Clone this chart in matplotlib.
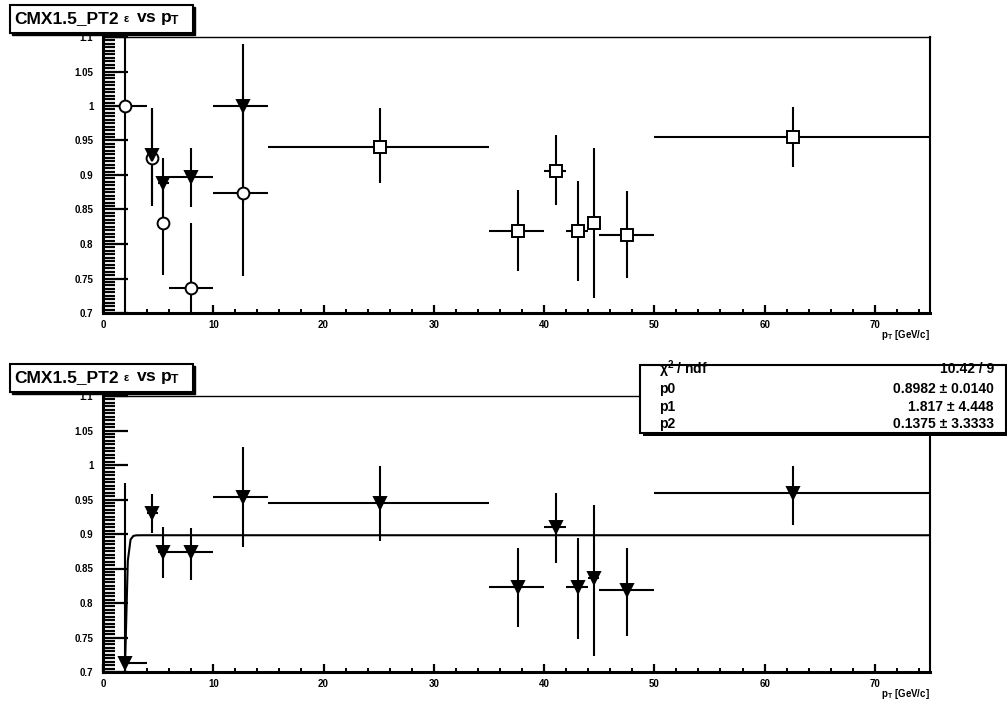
import numpy as np
import matplotlib
matplotlib.use("Agg")
import matplotlib.pyplot as plt
from matplotlib.ticker import MultipleLocator
from matplotlib.patches import Rectangle

plt.rcParams['font.family'] = ['Liberation Sans', 'DejaVu Sans']
plt.rcParams['font.weight'] = 'bold'
plt.rcParams['mathtext.default'] = 'regular'

# pT bins and mean pT per bin
bin_lo = [2, 4, 5, 6, 10, 15, 35, 40, 42, 44, 45, 50]
bin_hi = [4, 5, 6, 10, 15, 35, 40, 42, 44, 45, 50, 75]
pt = [2.0, 4.44, 5.45, 8.0, 12.7, 25.1, 37.6, 41.05, 43.1, 44.5, 47.5, 62.6]

# upper panel: circles (bins 0-4)
eff_c = [1.0, 0.925, 0.831, 0.736, 0.874]
up_c = [0.12, 0.07, 0.06, 0.094, 0.14]
dn_c = [0.32, 0.07, 0.076, 0.05, 0.12]

# upper panel: triangles (bins 1-4)
eff_t = [0.929, 0.889, 0.897, 1.0]
up_t = [0.068, 0.036, 0.042, 0.09]
dn_t = [0.072, 0.045, 0.043, 0.14]

# upper panel: squares (bins 5-11)
eff_s = [0.941, 0.819, 0.906, 0.819, 0.831, 0.813, 0.955]
up_s = [0.056, 0.059, 0.052, 0.072, 0.108, 0.064, 0.043]
dn_s = [0.052, 0.058, 0.049, 0.073, 0.109, 0.062, 0.043]

# lower panel: all bins
eff_b = [0.713, 0.931, 0.874, 0.874, 0.954, 0.945, 0.823, 0.910, 0.823, 0.836, 0.819, 0.960]
up_b = [0.261, 0.027, 0.036, 0.035, 0.072, 0.054, 0.057, 0.05, 0.071, 0.106, 0.061, 0.039]
dn_b = [0.05, 0.029, 0.038, 0.04, 0.073, 0.055, 0.058, 0.052, 0.075, 0.113, 0.067, 0.047]

# fit parameters
p0, p1, p2 = 0.8982, 1.817, 0.1375
chi2_txt = "10.42 / 9"
par_txt = ["0.8982 \u00b1 0.0140", "1.817 \u00b1 4.448", "0.1375 \u00b1 3.3333"]

W, H = 1007, 704
fig = plt.figure(figsize=(W / 100, H / 100), dpi=100)


def px_box(x0, y0, x1, y1):
    return [x0 / W, 1 - y1 / H, (x1 - x0) / W, (y1 - y0) / H]


def style_axes(ax):
    ax.set_xlim(0, 75)
    ax.set_ylim(0.7, 1.1)
    ax.xaxis.set_major_locator(MultipleLocator(10))
    ax.xaxis.set_minor_locator(MultipleLocator(2))
    ax.yaxis.set_major_locator(MultipleLocator(0.05))
    ax.yaxis.set_minor_locator(MultipleLocator(0.005))
    ax.tick_params(axis='y', which='major', direction='in', length=18, width=1.6,
                   labelsize=7, pad=7, right=False)
    ax.tick_params(axis='y', which='minor', direction='in', length=8.5, width=1.6, right=False)
    ax.tick_params(axis='x', which='major', direction='in', length=6, width=1.6,
                   labelsize=7, pad=5, top=False)
    ax.tick_params(axis='x', which='minor', direction='in', length=3, width=1.4, top=False)
    ax.yaxis.set_major_formatter(plt.FuncFormatter(lambda v, _: ('%g' % round(v, 3))))
    for lab in ax.get_xticklabels() + ax.get_yticklabels():
        lab.set_fontweight('bold')
    ax.spines['left'].set_linewidth(2.2)
    ax.spines['bottom'].set_linewidth(2.2)
    ax.spines['right'].set_linewidth(1.5)
    ax.spines['top'].set_linewidth(1.0)
    ax.text(1.0, -0.055, r'p$_{T}$ [GeV/c]', transform=ax.transAxes, ha='right',
            va='top', fontsize=7, fontweight='bold')


def draw(ax, idx, y, up, dn, marker, face):
    x = np.array([pt[i] for i in idx])
    xl = x - np.array([bin_lo[i] for i in idx])
    xh = np.array([bin_hi[i] for i in idx]) - x
    ax.errorbar(x, y, xerr=[xl, xh], yerr=[dn, up], fmt='none', ecolor='black',
                elinewidth=1.5, capsize=0, zorder=2)
    ax.plot(x, y, linestyle='none', marker=marker, markersize=8.5, markerfacecolor=face,
            markeredgecolor='black', markeredgewidth=1.4, zorder=3)


def title_box(y0, y1):
    fig.patches.append(Rectangle((12 / W, 1 - (y1 + 2) / H), 183 / W, (y1 - y0) / H,
                                 transform=fig.transFigure, facecolor='black',
                                 edgecolor='black', zorder=9))
    fig.patches.append(Rectangle((10 / W, 1 - y1 / H), 183 / W, (y1 - y0) / H,
                                 transform=fig.transFigure, facecolor='white',
                                 edgecolor='black', linewidth=1.5, zorder=10))
    yc = 1 - (y0 + y1) / 2 / H
    fig.text(14 / W, yc, 'CMX1.5_PT2', ha='left', va='center', fontsize=12.5,
             fontweight='bold', zorder=11)
    fig.text(124 / W, yc, '\u03b5', ha='left', va='center', fontsize=8,
             fontweight='bold', zorder=11)
    fig.text(136 / W, yc, 'vs p$_{T}$', ha='left', va='center', fontsize=12.5,
             fontweight='bold', zorder=11)


# upper panel
ax1 = fig.add_axes(px_box(103, 37, 930, 313))
style_axes(ax1)
draw(ax1, [0, 1, 2, 3, 4], eff_c, up_c, dn_c, 'o', 'white')
draw(ax1, [1, 2, 3, 4], eff_t, up_t, dn_t, 'v', 'black')
draw(ax1, [5, 6, 7, 8, 9, 10, 11], eff_s, up_s, dn_s, 's', 'white')
title_box(5, 33)

# lower panel with fit
ax2 = fig.add_axes(px_box(103, 396, 930, 672))
style_axes(ax2)
draw(ax2, list(range(12)), eff_b, up_b, dn_b, 'v', 'black')
xf = np.linspace(0, 75, 301)
ax2.plot(xf, p0 / (1 + np.exp(-(xf - p1) / p2)), color='black', linewidth=1.5, zorder=2)
title_box(364, 392)

# fit statistics box
fig.patches.append(Rectangle((643 / W, 1 - 436 / H), 365 / W, 70 / H,
                             transform=fig.transFigure, facecolor='black', zorder=9))
fig.patches.append(Rectangle((640 / W, 1 - 433 / H), 366 / W, 68 / H,
                             transform=fig.transFigure, facecolor='white',
                             edgecolor='black', linewidth=1.5, zorder=10))
rows_y = [369, 389, 407, 424]
labels = ['\u03c7$^{2}$ / ndf', 'p0', 'p1', 'p2']
values = [chi2_txt] + par_txt
for yy, lab, val in zip(rows_y, labels, values):
    fig.text(659 / W, 1 - yy / H, lab, ha='left', va='center', fontsize=10,
             fontweight='bold', zorder=11)
    fig.text(994 / W, 1 - yy / H, val, ha='right', va='center', fontsize=10,
             fontweight='bold', zorder=11)

fig.savefig('out.png', dpi=100)
